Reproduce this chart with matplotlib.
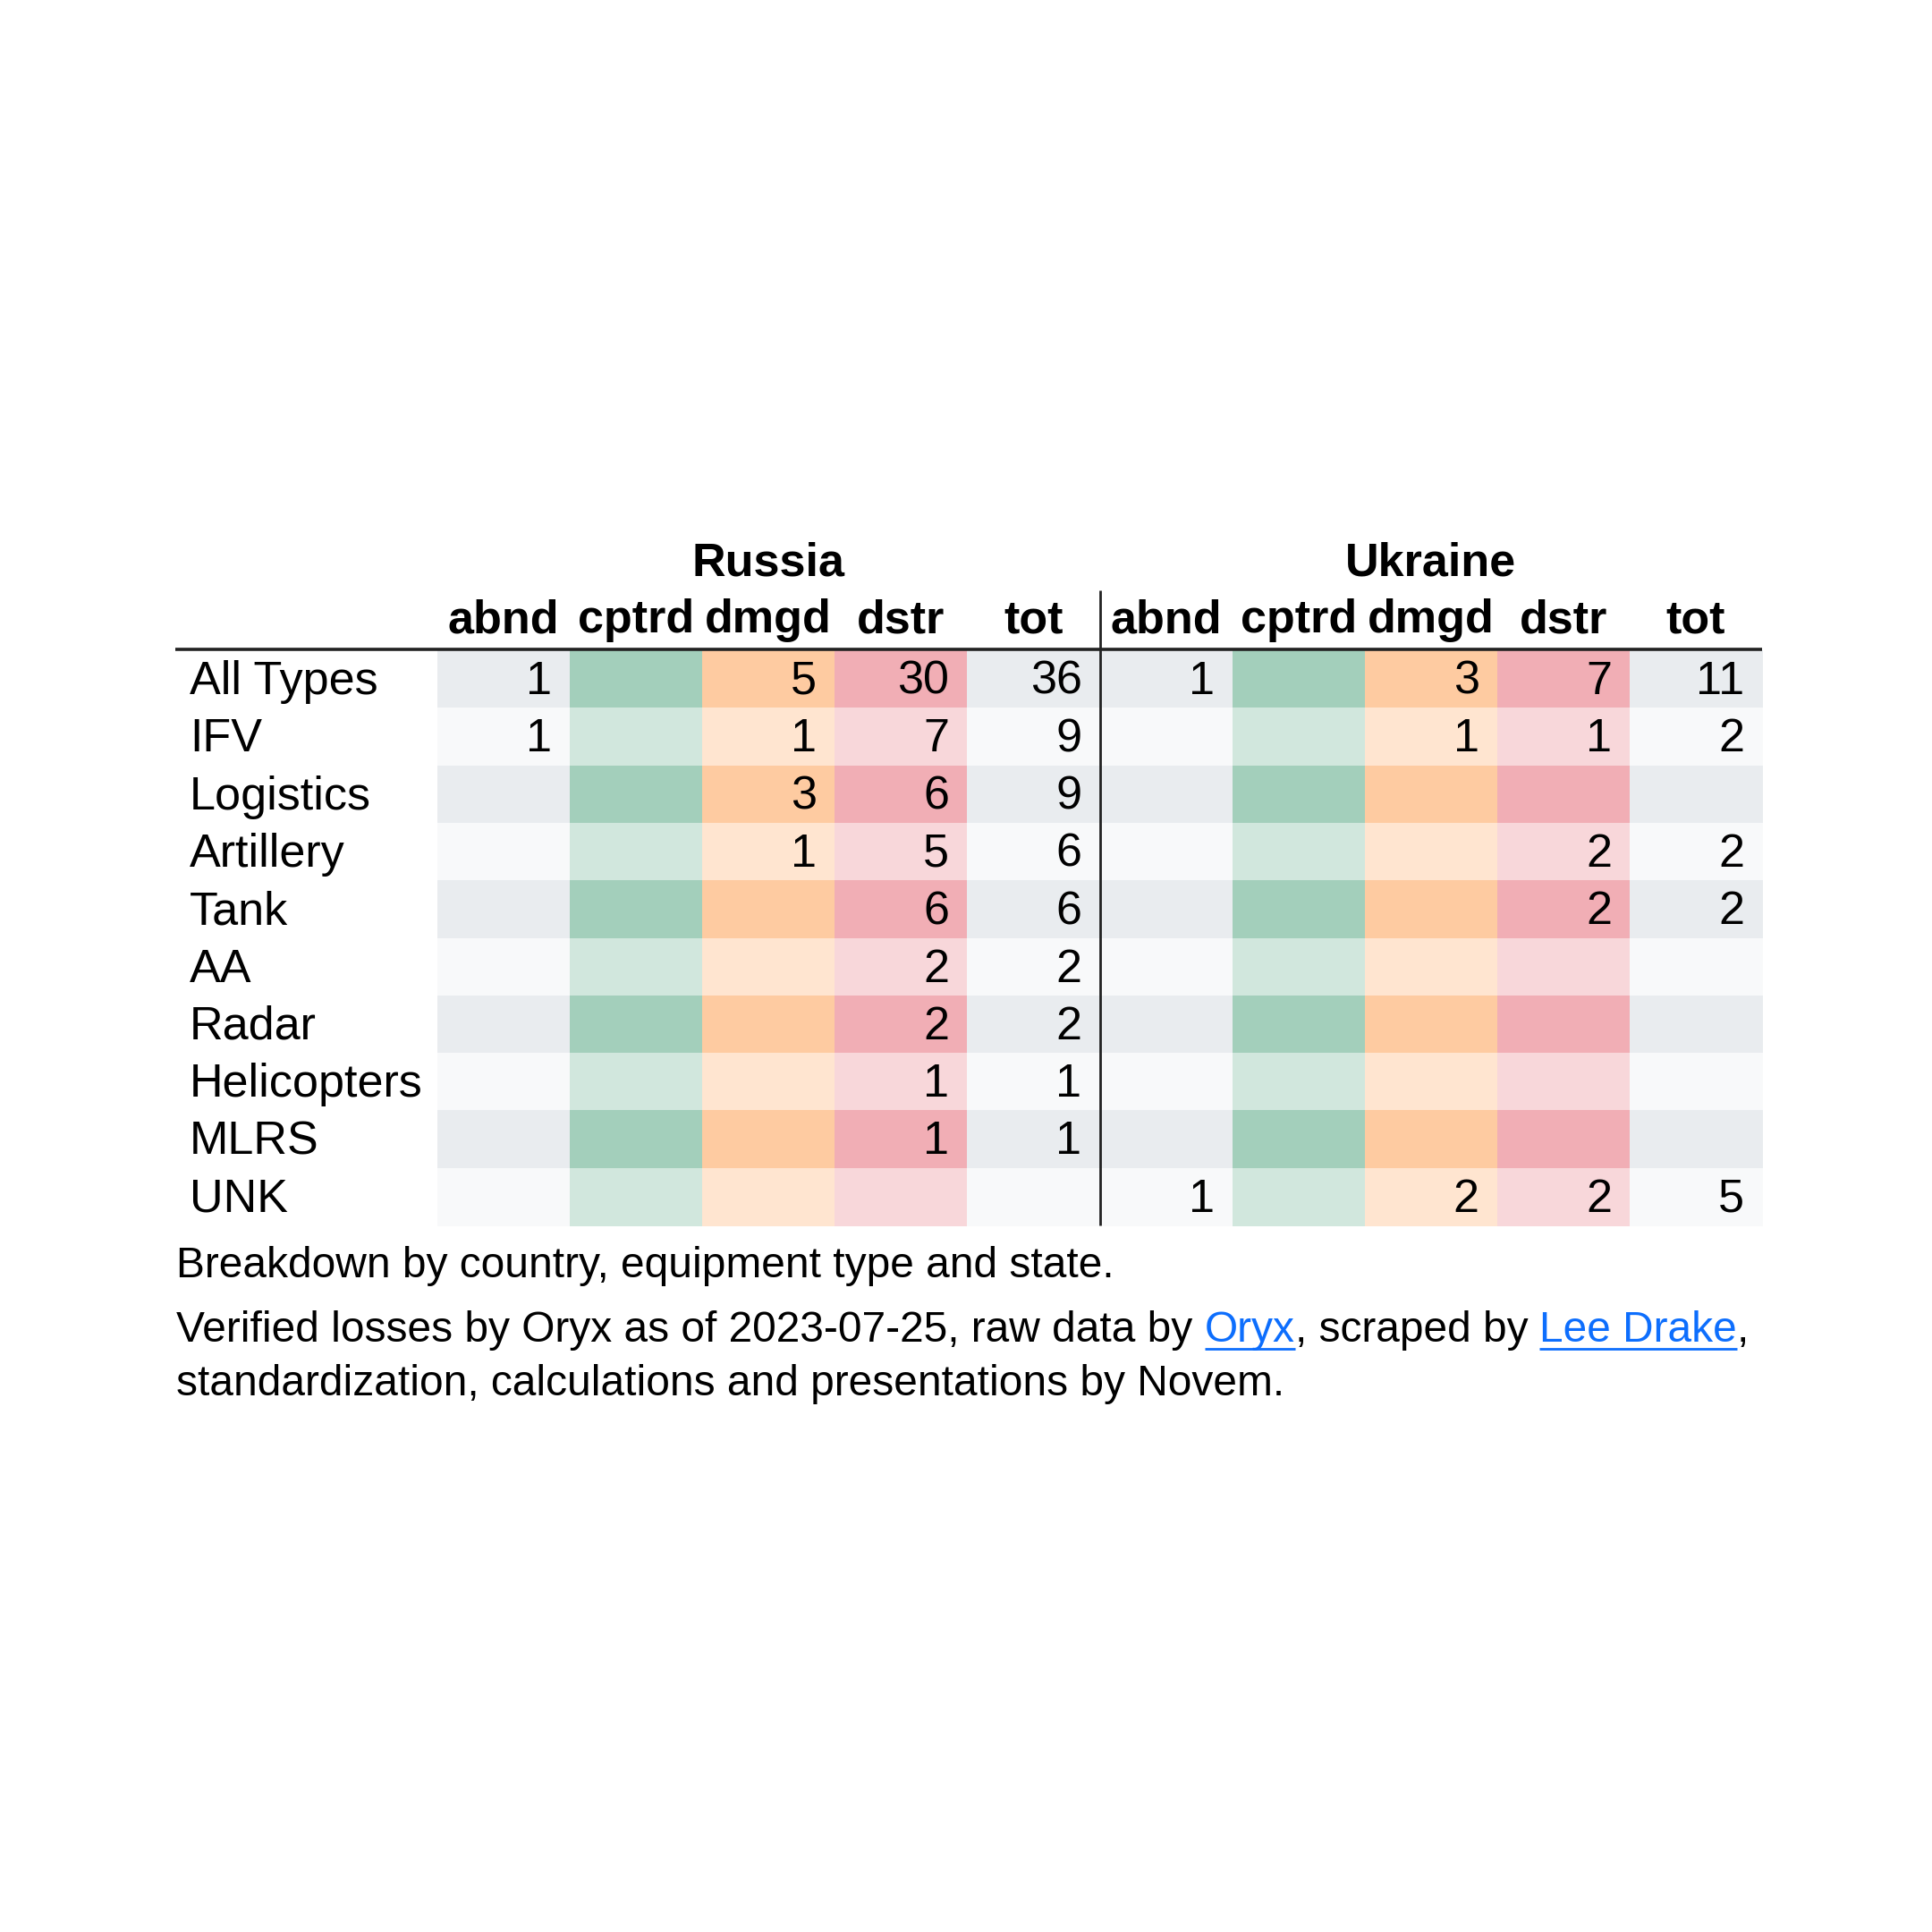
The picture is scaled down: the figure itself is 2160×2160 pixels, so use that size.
import matplotlib
matplotlib.use("Agg")
import matplotlib.pyplot as plt
from matplotlib.patches import Rectangle

plt.rcParams['font.family'] = ['Liberation Sans', 'DejaVu Sans']

# ---- data ----
row_labels = ["All Types", "IFV", "Logistics", "Artillery", "Tank", "AA",
              "Radar", "Helicopters", "MLRS", "UNK"]
states = ["abnd", "cptrd", "dmgd", "dstr", "tot"]
countries = ["Russia", "Ukraine"]

russia_abnd = [1, 1, None, None, None, None, None, None, None, None]
russia_cptrd = [None] * 10
russia_dmgd = [5, 1, 3, 1, None, None, None, None, None, None]
russia_dstr = [30, 7, 6, 5, 6, 2, 2, 1, 1, None]
russia_tot = [36, 9, 9, 6, 6, 2, 2, 1, 1, None]

ukraine_abnd = [1, None, None, None, None, None, None, None, None, 1]
ukraine_cptrd = [None] * 10
ukraine_dmgd = [3, 1, None, None, None, None, None, None, None, 2]
ukraine_dstr = [7, 1, None, 2, 2, None, None, None, None, 2]
ukraine_tot = [11, 2, None, 2, 2, None, None, None, None, 5]

footer_line1 = "Breakdown by country, equipment type and state."
footer_line2 = [("Verified losses by Oryx as of 2023-07-25, raw data by ", False),
                ("Oryx", True), (", scraped by ", False), ("Lee Drake", True), (",", False)]
footer_line3 = "standardization, calculations and presentations by Novem."

# ---- styles ----
dark_colors = {"abnd": "#e9ecef", "cptrd": "#a3cfbb", "dmgd": "#fecba1",
               "dstr": "#f1aeb5", "tot": "#e9ecef"}
light_colors = {"abnd": "#f8f9fa", "cptrd": "#d1e7dd", "dmgd": "#ffe5d0",
                "dstr": "#f8d7da", "tot": "#f8f9fa"}
link_color = "#0d6efd"

data = {
    "Russia": [russia_abnd, russia_cptrd, russia_dmgd, russia_dstr, russia_tot],
    "Ukraine": [ukraine_abnd, ukraine_cptrd, ukraine_dmgd, ukraine_dstr, ukraine_tot],
}

W = H = 2160
fig = plt.figure(figsize=(21.6, 21.6), dpi=100)
ax = fig.add_axes([0, 0, 1, 1])
ax.set_xlim(0, W)
ax.set_ylim(H, 0)
ax.axis("off")

table_left = 196
cell_x0 = 489
cell_w = 148.1
row_top0 = 727
row_h = 64.3
fs = 37.5
fs_foot = 34.5
pad = 20

ncols = len(states)
for ci, country in enumerate(countries):
    for si, st in enumerate(states):
        col = ci * ncols + si
        x = cell_x0 + col * cell_w
        for ri, lab in enumerate(row_labels):
            y = row_top0 + ri * row_h
            color = dark_colors[st] if ri % 2 == 0 else light_colors[st]
            ax.add_patch(Rectangle((x, y), cell_w + 0.6, row_h + 0.6,
                                   facecolor=color, edgecolor="none", zorder=1))
            v = data[country][si][ri]
            if v is not None:
                ax.text(x + cell_w - pad, y + 49, str(v), ha="right", va="baseline",
                        fontsize=fs, color="black", zorder=3)
        # column header
        ax.text(x + cell_w / 2, 707, st, ha="center", va="baseline",
                fontsize=fs, fontweight="bold", zorder=3)
    # country header
    cx = cell_x0 + (ci * ncols + ncols / 2) * cell_w
    ax.text(cx, 643, country, ha="center", va="baseline", fontsize=fs,
            fontweight="bold", zorder=3)

for ri, lab in enumerate(row_labels):
    y = row_top0 + ri * row_h
    ax.text(212, y + 49, lab, ha="left", va="baseline", fontsize=fs, zorder=3)

table_right = cell_x0 + 2 * ncols * cell_w
table_bottom = row_top0 + len(row_labels) * row_h
ax.plot([table_left, table_right], [726, 726], color="#222222", lw=2.6,
        solid_capstyle="butt", zorder=4)
vx = cell_x0 + ncols * cell_w
ax.plot([vx, vx], [660, table_bottom], color="#222222", lw=2.0,
        solid_capstyle="butt", zorder=4)

# ---- footer ----
ax.text(197, 1428, footer_line1, ha="left", va="baseline", fontsize=fs_foot)

fig.canvas.draw()
renderer = fig.canvas.get_renderer()
inv = ax.transData.inverted()
x = 197
for txt, is_link in footer_line2:
    t = ax.text(x, 1500, txt, ha="left", va="baseline", fontsize=fs_foot,
                color=link_color if is_link else "black")
    bb = t.get_window_extent(renderer=renderer)
    (x0d, _), (x1d, _) = inv.transform([(bb.x0, bb.y0), (bb.x1, bb.y1)])
    if is_link:
        ax.plot([x0d, x1d], [1508, 1508], color=link_color, lw=2.0,
                solid_capstyle="butt")
    x = x1d

ax.text(197, 1560, footer_line3, ha="left", va="baseline", fontsize=fs_foot)

fig.savefig("out.png", dpi=100, facecolor="white")
